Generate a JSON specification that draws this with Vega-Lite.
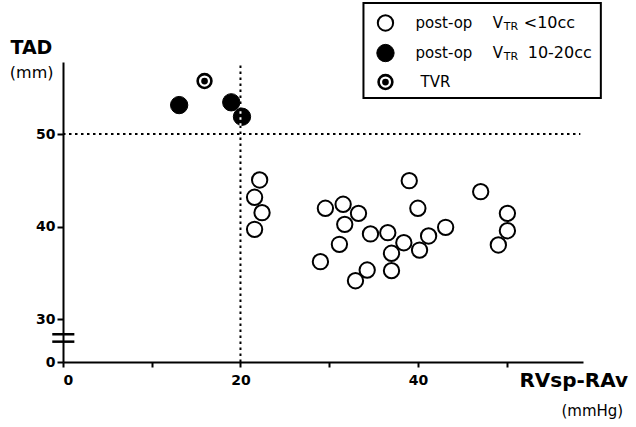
{
  "$schema": "https://vega.github.io/schema/vega-lite/v6.json",
  "width": 520,
  "height": 300,
  "autosize": {"type": "none"},
  "padding": {"left": 63, "top": 62, "right": 53, "bottom": 65},
  "background": "white",
  "config": {
    "view": {"stroke": null},
    "axis": {
      "grid": false,
      "domainColor": "black",
      "domainWidth": 2,
      "tickColor": "black",
      "tickWidth": 2,
      "labelFont": "DejaVu Sans",
      "labelFontWeight": "bold",
      "labelFontSize": 14,
      "labelColor": "black"
    }
  },
  "datasets": {
    "pts": [
      {"x": 22.16, "y": 45.04, "g": "open"},
      {"x": 21.59, "y": 43.17, "g": "open"},
      {"x": 22.43, "y": 41.50, "g": "open"},
      {"x": 21.59, "y": 39.70, "g": "open"},
      {"x": 29.57, "y": 41.98, "g": "open"},
      {"x": 31.57, "y": 42.41, "g": "open"},
      {"x": 33.30, "y": 41.43, "g": "open"},
      {"x": 31.75, "y": 40.24, "g": "open"},
      {"x": 31.15, "y": 38.08, "g": "open"},
      {"x": 29.01, "y": 36.20, "g": "open"},
      {"x": 34.28, "y": 35.30, "g": "open"},
      {"x": 32.96, "y": 34.14, "g": "open"},
      {"x": 34.65, "y": 39.20, "g": "open"},
      {"x": 36.60, "y": 39.34, "g": "open"},
      {"x": 38.41, "y": 38.25, "g": "open"},
      {"x": 37.02, "y": 37.11, "g": "open"},
      {"x": 37.02, "y": 35.23, "g": "open"},
      {"x": 39.02, "y": 44.96, "g": "open"},
      {"x": 39.99, "y": 41.98, "g": "open"},
      {"x": 41.20, "y": 38.98, "g": "open"},
      {"x": 40.18, "y": 37.46, "g": "open"},
      {"x": 43.12, "y": 39.92, "g": "open"},
      {"x": 47.07, "y": 43.77, "g": "open"},
      {"x": 50.08, "y": 41.43, "g": "open"},
      {"x": 50.08, "y": 39.55, "g": "open"},
      {"x": 49.06, "y": 38.01, "g": "open"},
      {"x": 13.09, "y": 53.14, "g": "filled"},
      {"x": 18.96, "y": 53.44, "g": "filled"},
      {"x": 20.17, "y": 51.88, "g": "filled"},
      {"x": 15.95, "y": 55.74, "g": "TVR"}
    ]
  },
  "layer": [
    {
      "data": {"values": [{}]},
      "mark": {"type": "rect", "fill": "white", "stroke": "black", "strokeWidth": 2},
      "encoding": {
        "x": {"datum": 33.86, "type": "quantitative", "scale": {"domain": [0, 58.6], "nice": false, "zero": false}},
        "x2": {"datum": 60.61},
        "y": {"datum": 64.18, "type": "quantitative", "scale": {"domain": [25.35, 57.8], "nice": false, "zero": false}},
        "y2": {"datum": 53.91}
      }
    },
    {
      "data": {"values": [{}]},
      "mark": {"type": "rule", "stroke": "black", "strokeWidth": 2, "strokeDash": [2.5, 3.5]},
      "encoding": {
        "x": {"datum": 0, "type": "quantitative", "scale": {"domain": [0, 58.6], "nice": false, "zero": false}},
        "x2": {"datum": 58.3},
        "y": {"datum": 50, "type": "quantitative", "scale": {"domain": [25.35, 57.8], "nice": false, "zero": false}}
      }
    },
    {
      "data": {"values": [{}]},
      "mark": {"type": "rule", "stroke": "black", "strokeWidth": 2, "strokeDash": [2.5, 3.5]},
      "encoding": {
        "x": {"datum": 20, "type": "quantitative", "scale": {"domain": [0, 58.6], "nice": false, "zero": false}},
        "y": {"datum": 25.35, "type": "quantitative", "scale": {"domain": [25.35, 57.8], "nice": false, "zero": false}},
        "y2": {"datum": 57.8}
      }
    },
    {
      "data": {"values": [{}]},
      "mark": {"type": "rule", "stroke": "black", "strokeWidth": 2.5},
      "encoding": {
        "x": {"datum": -1.21, "type": "quantitative", "scale": {"domain": [0, 58.6], "nice": false, "zero": false}},
        "x2": {"datum": 1.28},
        "y": {"datum": 28.35, "type": "quantitative", "scale": {"domain": [25.35, 57.8], "nice": false, "zero": false}}
      }
    },
    {
      "data": {"values": [{}]},
      "mark": {"type": "rule", "stroke": "black", "strokeWidth": 2.5},
      "encoding": {
        "x": {"datum": -1.21, "type": "quantitative", "scale": {"domain": [0, 58.6], "nice": false, "zero": false}},
        "x2": {"datum": 1.28},
        "y": {"datum": 27.55, "type": "quantitative", "scale": {"domain": [25.35, 57.8], "nice": false, "zero": false}}
      }
    },
    {
      "data": {"name": "pts"},
      "transform": [{"filter": "datum.g == 'open'"}],
      "mark": {"type": "point", "shape": "circle", "fill": "white", "stroke": "black", "strokeWidth": 2, "size": 235, "opacity": 1, "fillOpacity": 1},
      "encoding": {
        "x": {
          "field": "x", "type": "quantitative",
          "scale": {"domain": [0, 58.6], "nice": false, "zero": false},
          "axis": {"title": null, "values": [0, 10, 20, 30, 40, 50], "tickSize": 5, "labelPadding": 6,
                   "labelExpr": "datum.value % 20 == 0 ? datum.label : ''"}
        },
        "y": {
          "field": "y", "type": "quantitative",
          "scale": {"domain": [25.35, 57.8], "nice": false, "zero": false},
          "axis": {"title": null, "values": [25.35, 30, 40, 50], "tickSize": 6, "labelPadding": 2,
                   "labelExpr": "datum.value < 26 ? '0' : format(datum.value, 'd')"}
        }
      }
    },
    {
      "data": {"name": "pts"},
      "transform": [{"filter": "datum.g == 'filled'"}],
      "mark": {"type": "point", "shape": "circle", "fill": "black", "stroke": "black", "strokeWidth": 1, "size": 300, "opacity": 1, "fillOpacity": 1},
      "encoding": {
        "x": {"field": "x", "type": "quantitative", "scale": {"domain": [0, 58.6], "nice": false, "zero": false}},
        "y": {"field": "y", "type": "quantitative", "scale": {"domain": [25.35, 57.8], "nice": false, "zero": false}}
      }
    },
    {
      "data": {"values": [{}]},
      "mark": {"type": "rule", "stroke": "white", "strokeWidth": 2, "strokeDash": [2.5, 3.5]},
      "encoding": {
        "x": {"datum": 20, "type": "quantitative", "scale": {"domain": [0, 58.6], "nice": false, "zero": false}},
        "y": {"datum": 50.9, "type": "quantitative", "scale": {"domain": [25.35, 57.8], "nice": false, "zero": false}},
        "y2": {"datum": 52.85}
      }
    },
    {
      "data": {"name": "pts"},
      "transform": [{"filter": "datum.g == 'TVR'"}],
      "mark": {"type": "point", "shape": "circle", "fill": "white", "stroke": "black", "strokeWidth": 2.6, "size": 190, "opacity": 1, "fillOpacity": 1},
      "encoding": {
        "x": {"field": "x", "type": "quantitative", "scale": {"domain": [0, 58.6], "nice": false, "zero": false}},
        "y": {"field": "y", "type": "quantitative", "scale": {"domain": [25.35, 57.8], "nice": false, "zero": false}}
      }
    },
    {
      "data": {"name": "pts"},
      "transform": [{"filter": "datum.g == 'TVR'"}],
      "mark": {"type": "point", "shape": "circle", "fill": "black", "strokeWidth": 0, "size": 45, "opacity": 1, "fillOpacity": 1},
      "encoding": {
        "x": {"field": "x", "type": "quantitative", "scale": {"domain": [0, 58.6], "nice": false, "zero": false}},
        "y": {"field": "y", "type": "quantitative", "scale": {"domain": [25.35, 57.8], "nice": false, "zero": false}}
      }
    },
    {
      "data": {"values": [{}]},
      "mark": {"type": "point", "shape": "circle", "fill": "white", "stroke": "black", "strokeWidth": 2, "size": 235, "opacity": 1, "fillOpacity": 1},
      "encoding": {
        "x": {"datum": 36.34, "type": "quantitative", "scale": {"domain": [0, 58.6], "nice": false, "zero": false}},
        "y": {"datum": 62.02, "type": "quantitative", "scale": {"domain": [25.35, 57.8], "nice": false, "zero": false}}
      }
    },
    {
      "data": {"values": [{}]},
      "mark": {"type": "point", "shape": "circle", "fill": "black", "stroke": "black", "strokeWidth": 1, "size": 300, "opacity": 1, "fillOpacity": 1},
      "encoding": {
        "x": {"datum": 36.34, "type": "quantitative", "scale": {"domain": [0, 58.6], "nice": false, "zero": false}},
        "y": {"datum": 58.77, "type": "quantitative", "scale": {"domain": [25.35, 57.8], "nice": false, "zero": false}}
      }
    },
    {
      "data": {"values": [{}]},
      "mark": {"type": "point", "shape": "circle", "fill": "white", "stroke": "black", "strokeWidth": 2.6, "size": 190, "opacity": 1, "fillOpacity": 1},
      "encoding": {
        "x": {"datum": 36.34, "type": "quantitative", "scale": {"domain": [0, 58.6], "nice": false, "zero": false}},
        "y": {"datum": 55.63, "type": "quantitative", "scale": {"domain": [25.35, 57.8], "nice": false, "zero": false}}
      }
    },
    {
      "data": {"values": [{}]},
      "mark": {"type": "point", "shape": "circle", "fill": "black", "strokeWidth": 0, "size": 45, "opacity": 1, "fillOpacity": 1},
      "encoding": {
        "x": {"datum": 36.34, "type": "quantitative", "scale": {"domain": [0, 58.6], "nice": false, "zero": false}},
        "y": {"datum": 55.63, "type": "quantitative", "scale": {"domain": [25.35, 57.8], "nice": false, "zero": false}}
      }
    },
    {
      "data": {"values": [{}]},
      "mark": {"type": "text", "font": "DejaVu Sans", "fontSize": 15, "align": "left", "baseline": "middle", "color": "black", "text": "post-op"},
      "encoding": {
        "x": {"datum": 39.73, "type": "quantitative", "scale": {"domain": [0, 58.6], "nice": false, "zero": false}},
        "y": {"datum": 62.02, "type": "quantitative", "scale": {"domain": [25.35, 57.8], "nice": false, "zero": false}}
      }
    },
    {
      "data": {"values": [{}]},
      "mark": {"type": "text", "font": "DejaVu Sans", "fontSize": 15, "align": "left", "baseline": "middle", "color": "black", "text": "post-op"},
      "encoding": {
        "x": {"datum": 39.73, "type": "quantitative", "scale": {"domain": [0, 58.6], "nice": false, "zero": false}},
        "y": {"datum": 58.77, "type": "quantitative", "scale": {"domain": [25.35, 57.8], "nice": false, "zero": false}}
      }
    },
    {
      "data": {"values": [{}]},
      "mark": {"type": "text", "font": "DejaVu Sans", "fontSize": 15, "align": "left", "baseline": "middle", "color": "black", "text": "V"},
      "encoding": {
        "x": {"datum": 48.42, "type": "quantitative", "scale": {"domain": [0, 58.6], "nice": false, "zero": false}},
        "y": {"datum": 62.02, "type": "quantitative", "scale": {"domain": [25.35, 57.8], "nice": false, "zero": false}}
      }
    },
    {
      "data": {"values": [{}]},
      "mark": {"type": "text", "font": "DejaVu Sans", "fontSize": 15, "align": "left", "baseline": "middle", "color": "black", "text": "V"},
      "encoding": {
        "x": {"datum": 48.42, "type": "quantitative", "scale": {"domain": [0, 58.6], "nice": false, "zero": false}},
        "y": {"datum": 58.77, "type": "quantitative", "scale": {"domain": [25.35, 57.8], "nice": false, "zero": false}}
      }
    },
    {
      "data": {"values": [{}]},
      "mark": {"type": "text", "font": "DejaVu Sans", "fontSize": 11, "align": "left", "baseline": "middle", "dy": 4, "color": "black", "text": "TR"},
      "encoding": {
        "x": {"datum": 49.66, "type": "quantitative", "scale": {"domain": [0, 58.6], "nice": false, "zero": false}},
        "y": {"datum": 62.02, "type": "quantitative", "scale": {"domain": [25.35, 57.8], "nice": false, "zero": false}}
      }
    },
    {
      "data": {"values": [{}]},
      "mark": {"type": "text", "font": "DejaVu Sans", "fontSize": 11, "align": "left", "baseline": "middle", "dy": 4, "color": "black", "text": "TR"},
      "encoding": {
        "x": {"datum": 49.66, "type": "quantitative", "scale": {"domain": [0, 58.6], "nice": false, "zero": false}},
        "y": {"datum": 58.77, "type": "quantitative", "scale": {"domain": [25.35, 57.8], "nice": false, "zero": false}}
      }
    },
    {
      "data": {"values": [{}]},
      "mark": {"type": "text", "font": "DejaVu Sans", "fontSize": 16, "align": "left", "baseline": "middle", "color": "black", "text": "<10cc"},
      "encoding": {
        "x": {"datum": 51.92, "type": "quantitative", "scale": {"domain": [0, 58.6], "nice": false, "zero": false}},
        "y": {"datum": 62.02, "type": "quantitative", "scale": {"domain": [25.35, 57.8], "nice": false, "zero": false}}
      }
    },
    {
      "data": {"values": [{}]},
      "mark": {"type": "text", "font": "DejaVu Sans", "fontSize": 16, "align": "left", "baseline": "middle", "color": "black", "text": "10-20cc"},
      "encoding": {
        "x": {"datum": 52.37, "type": "quantitative", "scale": {"domain": [0, 58.6], "nice": false, "zero": false}},
        "y": {"datum": 58.77, "type": "quantitative", "scale": {"domain": [25.35, 57.8], "nice": false, "zero": false}}
      }
    },
    {
      "data": {"values": [{}]},
      "mark": {"type": "text", "font": "DejaVu Sans", "fontSize": 15, "align": "left", "baseline": "middle", "color": "black", "text": "TVR"},
      "encoding": {
        "x": {"datum": 40.29, "type": "quantitative", "scale": {"domain": [0, 58.6], "nice": false, "zero": false}},
        "y": {"datum": 55.63, "type": "quantitative", "scale": {"domain": [25.35, 57.8], "nice": false, "zero": false}}
      }
    },
    {
      "data": {"values": [{}]},
      "mark": {"type": "text", "font": "DejaVu Sans", "fontWeight": "bold", "fontSize": 19, "align": "center", "baseline": "middle", "color": "black", "text": "TAD"},
      "encoding": {
        "x": {"datum": -3.56, "type": "quantitative", "scale": {"domain": [0, 58.6], "nice": false, "zero": false}},
        "y": {"datum": 59.31, "type": "quantitative", "scale": {"domain": [25.35, 57.8], "nice": false, "zero": false}}
      }
    },
    {
      "data": {"values": [{}]},
      "mark": {"type": "text", "font": "DejaVu Sans", "fontSize": 16, "align": "center", "baseline": "middle", "color": "black", "text": "(mm)"},
      "encoding": {
        "x": {"datum": -3.53, "type": "quantitative", "scale": {"domain": [0, 58.6], "nice": false, "zero": false}},
        "y": {"datum": 56.61, "type": "quantitative", "scale": {"domain": [25.35, 57.8], "nice": false, "zero": false}}
      }
    },
    {
      "data": {"values": [{}]},
      "mark": {"type": "text", "font": "DejaVu Sans", "fontWeight": "bold", "fontSize": 20, "align": "center", "baseline": "middle", "color": "black", "text": "RVsp-RAv"},
      "encoding": {
        "x": {"datum": 57.56, "type": "quantitative", "scale": {"domain": [0, 58.6], "nice": false, "zero": false}},
        "y": {"datum": 23.29, "type": "quantitative", "scale": {"domain": [25.35, 57.8], "nice": false, "zero": false}}
      }
    },
    {
      "data": {"values": [{}]},
      "mark": {"type": "text", "font": "DejaVu Sans", "fontSize": 15, "align": "center", "baseline": "middle", "color": "black", "text": "(mmHg)"},
      "encoding": {
        "x": {"datum": 59.65, "type": "quantitative", "scale": {"domain": [0, 58.6], "nice": false, "zero": false}},
        "y": {"datum": 20.10, "type": "quantitative", "scale": {"domain": [25.35, 57.8], "nice": false, "zero": false}}
      }
    }
  ]
}
